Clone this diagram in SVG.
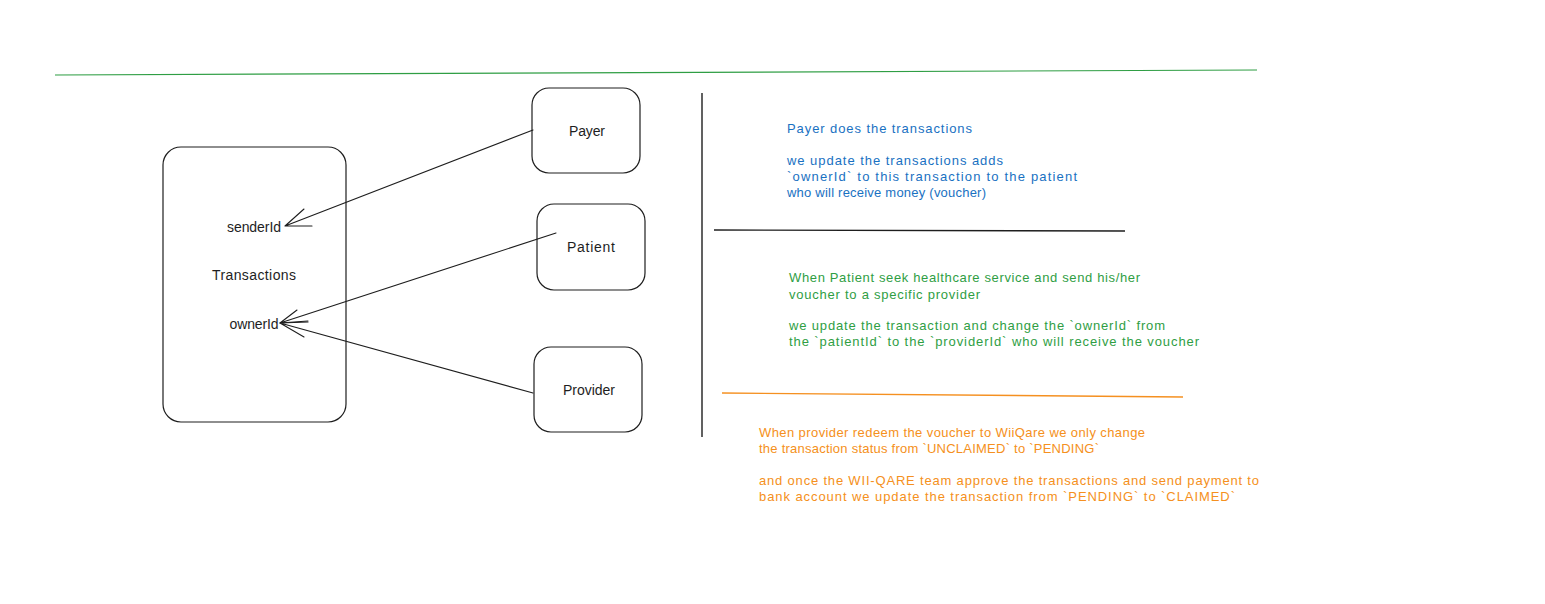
<svg xmlns="http://www.w3.org/2000/svg" width="1545" height="604" viewBox="0 0 1545 604">
<style>
.box{fill:none;stroke:#1e1e1e;stroke-width:1.2}
.lbl{font-family:"Liberation Sans",Arial,sans-serif;font-size:14px;fill:#1e1e1e;text-anchor:middle}
.conn{fill:none;stroke:#1e1e1e;stroke-width:1.1;stroke-linecap:round;stroke-linejoin:round}
.note{font-family:"Liberation Sans",Arial,sans-serif;font-size:13px}
.blue{fill:#1971c2}
.green{fill:#2f9e44}
.orange{fill:#f59020}
</style>
<rect width="1545" height="604" fill="#ffffff"/>
<g id="dividers">
<line x1="55" y1="75" x2="1257" y2="70" stroke="#2f9e44" stroke-width="1.2"/>
<line x1="702" y1="93" x2="702" y2="437" stroke="#1e1e1e" stroke-width="1.4"/>
<line x1="714" y1="230" x2="1125" y2="231" stroke="#1e1e1e" stroke-width="1.4"/>
<line x1="722" y1="393" x2="1183" y2="397" stroke="#f59020" stroke-width="1.4"/>
</g>
<g id="transactions">
<rect class="box" x="163" y="147" width="183" height="275" rx="18"/>
<text class="lbl" x="254" y="232" textLength="54">senderId</text>
<text class="lbl" x="254" y="280" textLength="84">Transactions</text>
<text class="lbl" x="254" y="329" textLength="49">ownerId</text>
</g>
<g id="payer">
<rect class="box" x="532" y="88" width="108" height="85" rx="17"/>
<text class="lbl" x="587" y="136" textLength="36">Payer</text>
</g>
<g id="patient">
<rect class="box" x="537" y="204" width="108" height="86" rx="17"/>
<text class="lbl" x="591" y="252" textLength="48">Patient</text>
</g>
<g id="provider">
<rect class="box" x="534" y="347" width="108" height="85" rx="17"/>
<text class="lbl" x="589" y="395" textLength="52">Provider</text>
</g>
<g id="connectors">
<path class="conn" d="M533 130 L285 226 M285 226 L304 209 M285 226 L312 226"/>
<path class="conn" d="M556 233 L280 323 M280 323 L297 310 M280 323 L308 322"/>
<path class="conn" d="M533 393 L280 323 M280 323 L308 321 M280 323 L304 337"/>
</g>
<g id="note-payer" class="note blue">
<text x="787" y="133" textLength="185">Payer does the transactions</text>
<text x="787" y="165" textLength="216">we update the transactions adds</text>
<text x="787" y="181" textLength="290">`ownerId` to this transaction to the patient</text>
<text x="787" y="197" textLength="199">who will receive money (voucher)</text>
</g>
<g id="note-patient" class="note green">
<text x="789" y="282" textLength="351">When Patient seek healthcare service and send his/her</text>
<text x="789" y="299" textLength="191">voucher to a specific provider</text>
<text x="789" y="330" textLength="376">we update the transaction and change the `ownerId` from</text>
<text x="789" y="346" textLength="410">the `patientId` to the `providerId` who will receive the voucher</text>
</g>
<g id="note-provider" class="note orange">
<text x="759" y="437" textLength="386">When provider redeem the voucher to WiiQare we only change</text>
<text x="759" y="453" textLength="340">the transaction status from `UNCLAIMED` to `PENDING`</text>
<text x="759" y="485" textLength="500">and once the WII-QARE team approve the transactions and send payment to</text>
<text x="759" y="501" textLength="476">bank account we update the transaction from `PENDING` to `CLAIMED`</text>
</g>
</svg>
